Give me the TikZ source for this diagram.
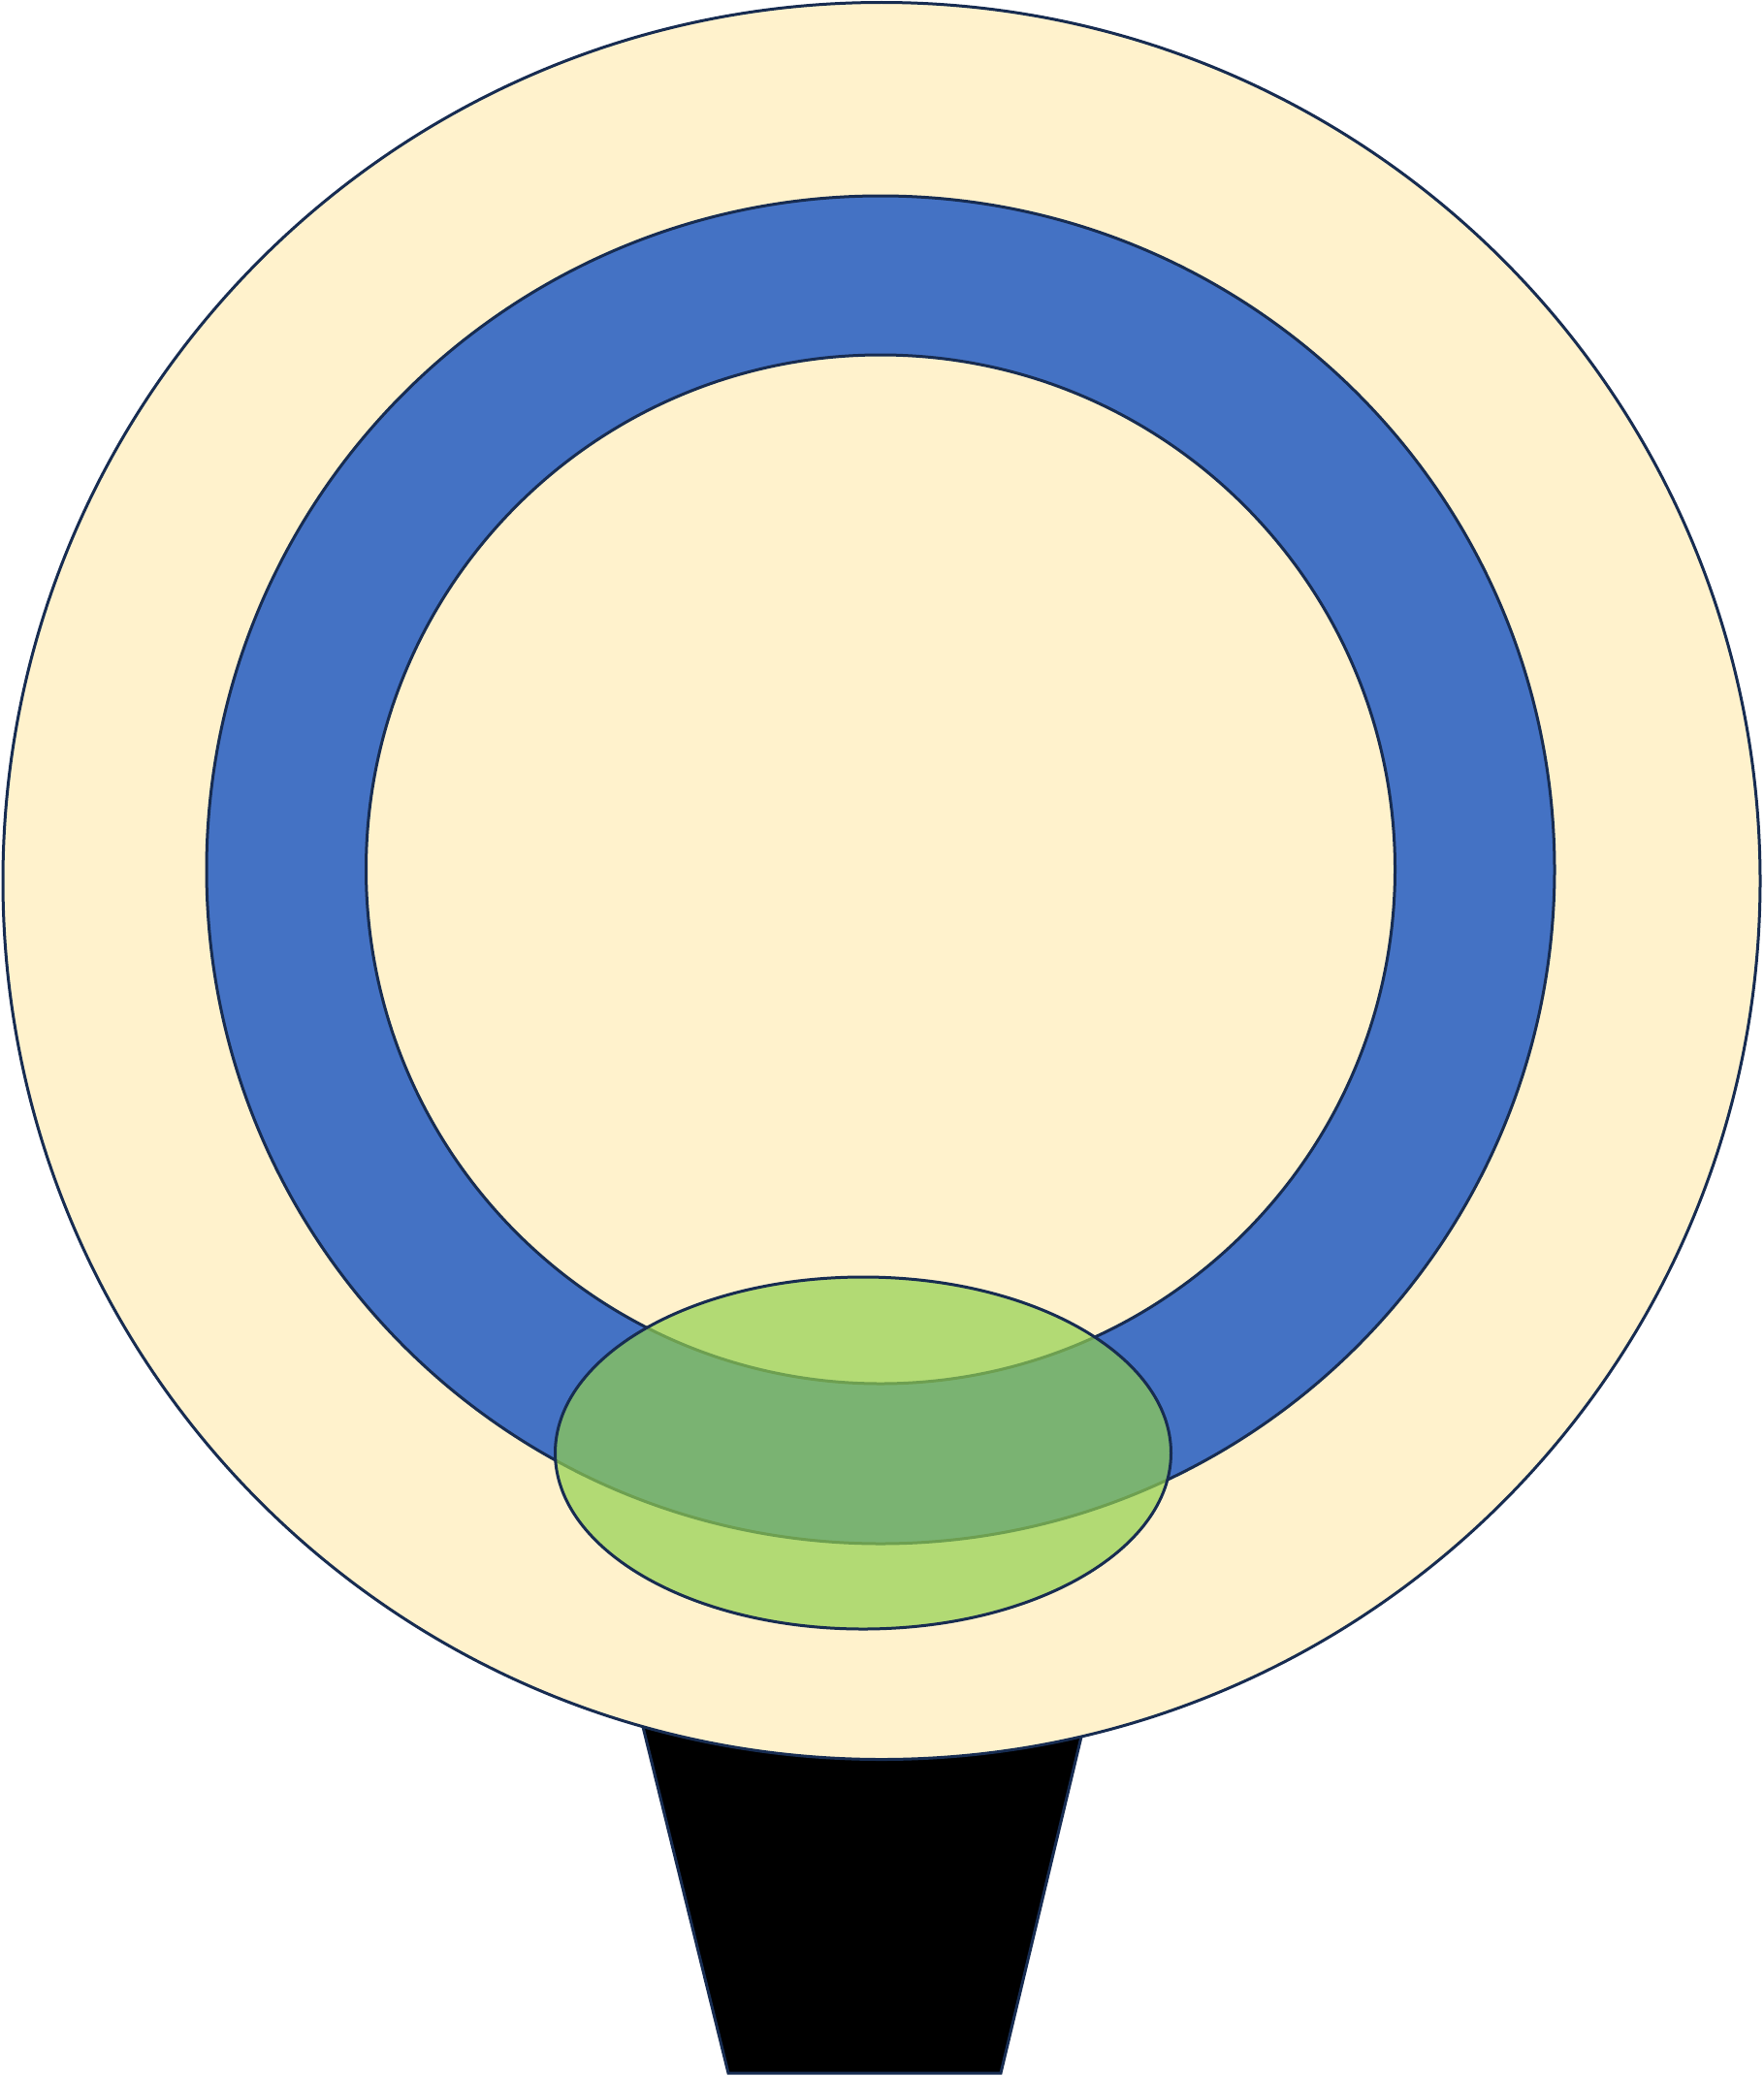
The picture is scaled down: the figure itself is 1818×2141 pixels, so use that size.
\documentclass[tikz,border=0pt]{standalone}
\usepackage{tikz}
\definecolor{cream}{HTML}{FFF2CC}
\definecolor{ringblue}{HTML}{4472C4}
\definecolor{lensgreen}{HTML}{92D050}
\definecolor{navy}{HTML}{172C51}
\tikzset{
  outline/.style={draw=navy, line width=3pt},
  creamdisc/.style={outline, fill=cream},
  bluedisc/.style={outline, fill=ringblue},
  greenlens/.style={outline, fill=lensgreen, fill opacity=0.7},
  stalk/.style={draw=navy, line width=3pt, fill=black, line join=miter}
}
\begin{document}
\begin{tikzpicture}[x=1pt,y=-1pt]
  \useasboundingbox (0,0) rectangle (1818,2141);
  % stalk behind the disc
  \draw[stalk] (648,1720) -- (751,2138) -- (1032,2138) -- (1132,1720) -- cycle;
  % outer disc
  \draw[creamdisc] (909,908.5) circle[radius=906];
  % blue ring
  \draw[bluedisc] (908,897) circle[radius=695];
  \draw[creamdisc] (908,896.5) circle[radius=530.5];
  % translucent green ellipse
  \draw[greenlens] (890,1498.5) ellipse[x radius=317.5, y radius=181.5];
\end{tikzpicture}
\end{document}
